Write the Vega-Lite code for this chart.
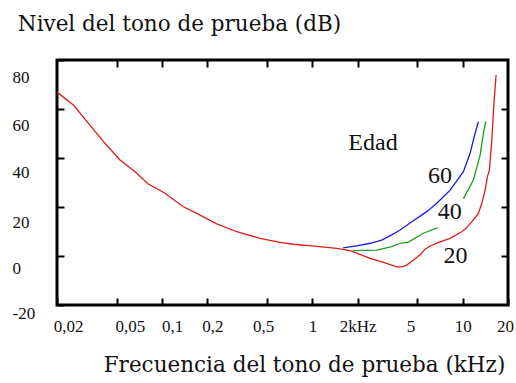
{
  "$schema": "https://vega.github.io/schema/vega-lite/v6.json",
  "width": 451,
  "height": 245,
  "autosize": {"type": "none"},
  "padding": {"left": 57, "top": 60, "right": 8, "bottom": 78},
  "background": "white",
  "config": {
    "view": {"stroke": "black", "strokeWidth": 3},
    "axis": {
      "grid": false,
      "domain": false,
      "ticks": true,
      "tickColor": "#000000",
      "tickOpacity": 1,
      "tickWidth": 2,
      "tickSize": 7,
      "offset": -7,
      "zindex": 1,
      "labelFont": "Liberation Serif",
      "labelFontSize": 17,
      "labelColor": "#111",
      "labelOverlap": false,
      "labelFlush": false,
      "labelBound": false,
      "titleFont": "DejaVu Serif",
      "titleFontSize": 21.5,
      "titleFontWeight": "normal",
      "titleColor": "#111"
    }
  },
  "datasets": {
    "curvas": [
      {"edad": "20", "serie": "20", "khz": 0.02, "db": 66.9},
      {"edad": "20", "serie": "20", "khz": 0.0257, "db": 61.6},
      {"edad": "20", "serie": "20", "khz": 0.0323, "db": 54.2},
      {"edad": "20", "serie": "20", "khz": 0.0417, "db": 46.0},
      {"edad": "20", "serie": "20", "khz": 0.0525, "db": 39.2},
      {"edad": "20", "serie": "20", "khz": 0.0661, "db": 34.4},
      {"edad": "20", "serie": "20", "khz": 0.081, "db": 29.4},
      {"edad": "20", "serie": "20", "khz": 0.1046, "db": 25.6},
      {"edad": "20", "serie": "20", "khz": 0.1385, "db": 20.1},
      {"edad": "20", "serie": "20", "khz": 0.17, "db": 17.4},
      {"edad": "20", "serie": "20", "khz": 0.231, "db": 13.1},
      {"edad": "20", "serie": "20", "khz": 0.314, "db": 9.9},
      {"edad": "20", "serie": "20", "khz": 0.448, "db": 7.2},
      {"edad": "20", "serie": "20", "khz": 0.609, "db": 5.6},
      {"edad": "20", "serie": "20", "khz": 0.747, "db": 4.8},
      {"edad": "20", "serie": "20", "khz": 0.99, "db": 4.1},
      {"edad": "20", "serie": "20", "khz": 1.45, "db": 3.1},
      {"edad": "20", "serie": "20", "khz": 1.78, "db": 2.2},
      {"edad": "20", "serie": "20", "khz": 2.13, "db": 0.4},
      {"edad": "20", "serie": "20", "khz": 2.48, "db": -1.2},
      {"edad": "20", "serie": "20", "khz": 2.97, "db": -2.6},
      {"edad": "20", "serie": "20", "khz": 3.64, "db": -4.4},
      {"edad": "20", "serie": "20", "khz": 3.93, "db": -4.4},
      {"edad": "20", "serie": "20", "khz": 4.24, "db": -3.7},
      {"edad": "20", "serie": "20", "khz": 4.7, "db": -1.6},
      {"edad": "20", "serie": "20", "khz": 5.2, "db": 0.5},
      {"edad": "20", "serie": "20", "khz": 5.62, "db": 2.8},
      {"edad": "20", "serie": "20", "khz": 6.06, "db": 4.1},
      {"edad": "20", "serie": "20", "khz": 7.06, "db": 5.8},
      {"edad": "20", "serie": "20", "khz": 8.24, "db": 7.2},
      {"edad": "20", "serie": "20", "khz": 9.85, "db": 9.9},
      {"edad": "20", "serie": "20", "khz": 10.53, "db": 11.3},
      {"edad": "20", "serie": "20", "khz": 11.49, "db": 14.0},
      {"edad": "20", "serie": "20", "khz": 12.71, "db": 17.4},
      {"edad": "20", "serie": "20", "khz": 13.39, "db": 21.5},
      {"edad": "20", "serie": "20", "khz": 14.09, "db": 26.9},
      {"edad": "20", "serie": "20", "khz": 14.59, "db": 32.4},
      {"edad": "20", "serie": "20", "khz": 15.04, "db": 35.1},
      {"edad": "20", "serie": "20", "khz": 15.61, "db": 47.3},
      {"edad": "20", "serie": "20", "khz": 16.16, "db": 63.0},
      {"edad": "20", "serie": "20", "khz": 16.67, "db": 73.9},

      {"edad": "40", "serie": "40a", "khz": 1.86, "db": 2.2},
      {"edad": "40", "serie": "40a", "khz": 2.68, "db": 2.4},
      {"edad": "40", "serie": "40a", "khz": 3.37, "db": 3.8},
      {"edad": "40", "serie": "40a", "khz": 3.83, "db": 5.2},
      {"edad": "40", "serie": "40a", "khz": 4.35, "db": 5.7},
      {"edad": "40", "serie": "40a", "khz": 5.47, "db": 9.3},
      {"edad": "40", "serie": "40a", "khz": 6.82, "db": 11.6},
      {"edad": "40", "serie": "40b", "khz": 10.1, "db": 23.4},
      {"edad": "40", "serie": "40b", "khz": 11.77, "db": 31.0},
      {"edad": "40", "serie": "40b", "khz": 13.05, "db": 41.2},
      {"edad": "40", "serie": "40b", "khz": 13.72, "db": 50.1},
      {"edad": "40", "serie": "40b", "khz": 14.24, "db": 54.8},

      {"edad": "60", "serie": "60", "khz": 1.6, "db": 3.3},
      {"edad": "60", "serie": "60", "khz": 1.97, "db": 4.1},
      {"edad": "60", "serie": "60", "khz": 2.42, "db": 5.2},
      {"edad": "60", "serie": "60", "khz": 2.89, "db": 6.5},
      {"edad": "60", "serie": "60", "khz": 3.37, "db": 8.6},
      {"edad": "60", "serie": "60", "khz": 3.83, "db": 10.6},
      {"edad": "60", "serie": "60", "khz": 4.46, "db": 13.5},
      {"edad": "60", "serie": "60", "khz": 5.76, "db": 18.1},
      {"edad": "60", "serie": "60", "khz": 6.72, "db": 21.5},
      {"edad": "60", "serie": "60", "khz": 8.24, "db": 26.9},
      {"edad": "60", "serie": "60", "khz": 10.1, "db": 34.4},
      {"edad": "60", "serie": "60", "khz": 11.19, "db": 41.9},
      {"edad": "60", "serie": "60", "khz": 12.08, "db": 50.1},
      {"edad": "60", "serie": "60", "khz": 12.71, "db": 54.8}
    ],
    "rotulos": [
      {"texto": "Edad", "khz": 2.53, "db": 43.3},
      {"texto": "60", "khz": 7.07, "db": 29.8},
      {"texto": "40", "khz": 8.18, "db": 14.9},
      {"texto": "20", "khz": 8.96, "db": -2.9}
    ]
  },
  "layer": [
    {
      "data": {"name": "curvas"},
      "mark": {"type": "line", "strokeWidth": 1.3, "clip": true},
      "encoding": {
        "x": {
          "field": "khz",
          "type": "quantitative",
          "scale": {"type": "log", "domain": [0.02, 20], "nice": false},
          "axis": {
            "orient": "bottom",
            "values": [0.02, 0.05, 0.1, 0.2, 0.5, 1, 2, 5, 10, 20],
            "labelExpr": "datum.value == 2 ? '2kHz' : replace('' + datum.value, '.', ',')",
            "labelAlign": "center",
            "labelBaseline": "alphabetic",
            "labelPadding": 26,
            "labelOffset": {"expr": "datum.value == 0.02 ? 11 : datum.value == 0.05 ? 13 : datum.value == 0.1 ? 10 : datum.value == 0.2 ? 5 : datum.value == 0.5 ? -4 : datum.value == 5 ? -7 : datum.value == 20 ? -3 : 0"},
            "title": "Frecuencia del tono de prueba (kHz)",
            "titleAngle": 0,
            "titleAlign": "center",
            "titleBaseline": "alphabetic",
            "titleX": 247,
            "titleY": 73
          }
        },
        "y": {
          "field": "db",
          "type": "quantitative",
          "scale": {"domain": [-20, 80], "nice": false, "zero": false},
          "axis": {
            "orient": "left",
            "values": [-20, 0, 20, 40, 60, 80],
            "labelExpr": "'' + datum.value",
            "labelAlign": "left",
            "labelBaseline": "middle",
            "labelPadding": 45,
            "labelOffset": {"expr": "datum.value == 80 ? 17 : datum.value == 60 ? 16 : datum.value == 40 ? 14 : datum.value == 20 ? 15 : datum.value == 0 ? 12 : 8"},
            "title": "Nivel del tono de prueba (dB)",
            "titleAngle": 0,
            "titleAlign": "center",
            "titleBaseline": "alphabetic",
            "titleX": 115,
            "titleY": -30
          }
        },
        "color": {
          "field": "edad",
          "type": "nominal",
          "scale": {"domain": ["20", "40", "60"], "range": ["#d81c1c", "#1c9c1c", "#1c1cdc"]},
          "legend": null
        },
        "detail": {"field": "serie"}
      }
    },
    {
      "data": {"name": "rotulos"},
      "mark": {"type": "text", "font": "Liberation Serif", "fontSize": 24, "align": "center", "baseline": "alphabetic", "color": "#111"},
      "encoding": {
        "x": {
          "field": "khz",
          "type": "quantitative",
          "axis": {"orient": "top", "values": [0.05, 0.1, 0.2, 0.5, 1, 2, 5, 10], "labels": false, "title": null}
        },
        "y": {
          "field": "db",
          "type": "quantitative",
          "axis": {"orient": "right", "values": [0, 20, 40, 60], "labels": false, "title": null}
        },
        "text": {"field": "texto"}
      }
    }
  ],
  "resolve": {"axis": {"x": "independent", "y": "independent"}}
}
